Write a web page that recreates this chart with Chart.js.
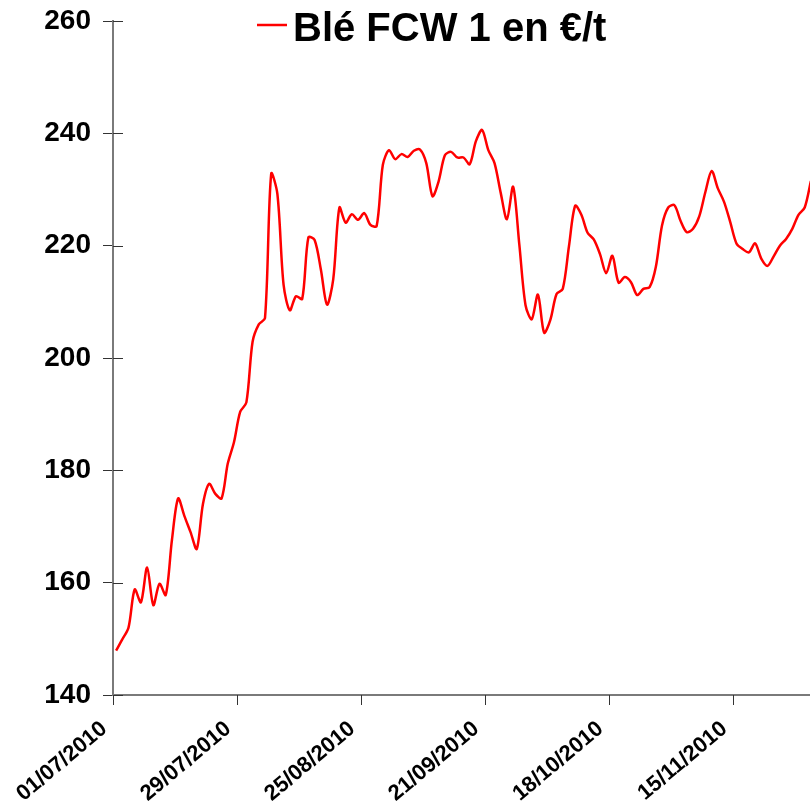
<!DOCTYPE html>
<html>
<head>
<meta charset="utf-8">
<script src="https://cdn.jsdelivr.net/npm/chart.js@4/dist/chart.umd.min.js"></script>
<style>
  html, body { margin: 0; padding: 0; background: #fff; overflow: hidden; }
  #wrap { width: 824px; height: 806px; }
</style>
</head>
<body>
<div id="wrap"><canvas id="bleChart" width="824" height="806"></canvas></div>
<script>
var seriesLabel = 'Blé FCW 1 en €/t';

// cours quotidiens, 01/07/2010 -> fin novembre 2010
var prices = [
    147.9, 149.9, 152.0, 158.8, 156.5, 162.7, 156.0, 159.8, 157.8, 167.6,
    175.0, 171.9, 169.0, 166.0, 174.0, 177.6, 175.8, 175.0, 181.2, 185.0,
    190.4, 192.1, 202.9, 206.0, 207.1, 232.8, 229.2, 213.0, 208.5, 211.0,
    210.5, 221.5, 221.0, 215.8, 209.5, 214.0, 226.8, 224.1, 225.6, 224.6,
    225.8, 223.7, 223.5, 234.4, 237.0, 235.4, 236.3, 235.8, 236.9, 237.1,
    234.7, 228.8, 231.5, 236.1, 236.7, 235.7, 235.7, 234.5, 238.6, 240.6,
    237.0, 234.7, 229.4, 224.7, 230.5, 220.2, 209.4, 206.9, 211.3, 204.5,
    206.8, 211.4, 212.3, 219.9, 227.1, 225.5, 222.3, 221.1, 218.5, 215.1,
    218.2, 213.4, 214.4, 213.5, 211.2, 212.3, 212.6, 216.2, 223.6, 226.8,
    227.2, 224.4, 222.4, 223.0, 225.2, 229.6, 233.3, 230.2, 227.8, 224.2,
    220.4, 219.4, 218.8, 220.4, 217.7, 216.4, 218.1, 220.0, 221.2, 223.0,
    225.5, 226.8, 231.5
];

// un libellé toutes les 20 séances
var tickEvery = 20;
var tickLabels = ['01/07/2010', '29/07/2010', '25/08/2010', '21/09/2010', '18/10/2010', '15/11/2010'];

var yTicks = [140, 160, 180, 200, 220, 240, 260];

// jours de cotation (lundi-vendredi) à partir du 01/07/2010
function tradingDays(n) {
    var out = [];
    var d = new Date(2010, 6, 1);
    while (out.length < n) {
        var wd = d.getDay();
        if (wd !== 0 && wd !== 6) {
            out.push(('0' + d.getDate()).slice(-2) + '/' + ('0' + (d.getMonth() + 1)).slice(-2) + '/' + d.getFullYear());
        }
        d.setDate(d.getDate() + 1);
    }
    return out;
}
var days = tradingDays(prices.length);

var FONT = "'Liberation Sans', Arial, sans-serif";

// traits de graduation (X entre les catégories, Y vers l'intérieur) + légende
var extras = {
    id: 'extras',
    afterDraw: function(chart) {
        var ctx = chart.ctx;
        var x = chart.scales.x;
        var y = chart.scales.y;
        var area = chart.chartArea;
        var half = (x.getPixelForValue(1) - x.getPixelForValue(0)) / 2;
        ctx.save();
        ctx.strokeStyle = '#333';
        ctx.lineWidth = 1;
        yTicks.forEach(function(v) {
            var py = Math.round(y.getPixelForValue(v)) + 0.5;
            ctx.beginPath();
            ctx.moveTo(area.left, py);
            ctx.lineTo(area.left + 10, py);
            ctx.stroke();
        });
        for (var k = 0; k < tickLabels.length; k++) {
            var px = Math.round(x.getPixelForValue(k * tickEvery) - half) + 0.5;
            ctx.beginPath();
            ctx.moveTo(px, area.bottom);
            ctx.lineTo(px, area.bottom + 10);
            ctx.stroke();
        }

        var ds = chart.data.datasets[0];
        ctx.strokeStyle = ds.borderColor;
        ctx.lineWidth = 2.5;
        ctx.beginPath();
        ctx.moveTo(257, 25);
        ctx.lineTo(287, 25);
        ctx.stroke();
        ctx.fillStyle = '#000';
        ctx.font = 'bold 40px ' + FONT;
        ctx.textBaseline = 'alphabetic';
        ctx.textAlign = 'left';
        ctx.fillText(ds.label, 293, 41);
        ctx.restore();
    }
};

var ctx = document.getElementById('bleChart').getContext('2d');
var myChart = new Chart(ctx, {
    type: 'line',
    data: {
        labels: days,
        datasets: [{
            label: seriesLabel,
            data: prices,
            borderColor: '#ff0000',
            borderWidth: 2.5,
            pointRadius: 0,
            tension: 0.3,
            fill: false
        }]
    },
    options: {
        responsive: false,
        animation: false,
        devicePixelRatio: 1,
        layout: { padding: { top: 21, right: 10, left: 0, bottom: 0 } },
        plugins: {
            legend: { display: false },
            tooltip: { enabled: false }
        },
        scales: {
            x: {
                type: 'category',
                offset: true,
                border: { color: '#7a7a7a', width: 2 },
                grid: {
                    drawOnChartArea: false,
                    drawTicks: true,
                    tickLength: 10,
                    color: 'rgba(0,0,0,0)'
                },
                ticks: {
                    autoSkip: false,
                    minRotation: 40,
                    maxRotation: 40,
                    padding: 11,
                    labelOffset: -12,
                    color: '#000',
                    font: { family: FONT, size: 22, weight: 'bold' },
                    callback: function(val, i) {
                        return i % tickEvery === 0 ? tickLabels[i / tickEvery] : null;
                    }
                },
                afterFit: function(scale) {
                    scale.height = 111;
                    scale.paddingRight = 0;
                }
            },
            y: {
                min: 140,
                max: 260,
                border: { color: '#7a7a7a', width: 2 },
                grid: {
                    drawOnChartArea: false,
                    drawTicks: true,
                    tickLength: 10,
                    color: '#333'
                },
                ticks: {
                    stepSize: 20,
                    padding: 12,
                    color: '#000',
                    font: { family: FONT, size: 28, weight: 'bold' }
                },
                afterFit: function(scale) {
                    scale.width = 113;
                    scale.paddingTop = 0;
                    scale.paddingBottom = 0;
                }
            }
        }
    },
    plugins: [extras]
});
</script>
</body>
</html>
